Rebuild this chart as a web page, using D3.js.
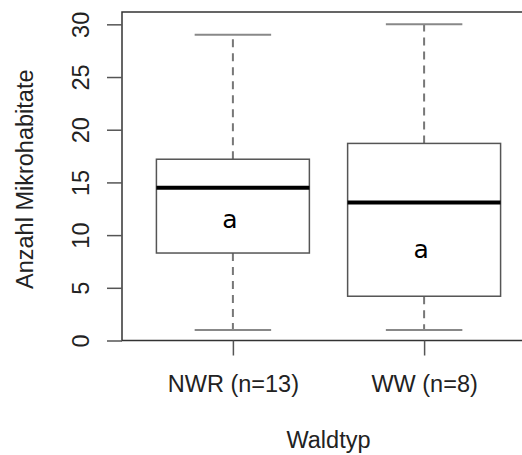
<!DOCTYPE html>
<html>
<head>
<meta charset="utf-8">
<script src="https://cdn.jsdelivr.net/npm/d3@7"></script>
<style>
  body { margin: 0; background: #fff; }
  text { font-family: "Liberation Sans", Arial, sans-serif; fill: #222; }
</style>
</head>
<body>
<div id="chart"></div>
<script>
// data
var groups = ["NWR (n=13)", "WW (n=8)"];
var mins = [1, 1];
var q1s = [8.3, 4.2];
var medians = [14.5, 13.1];
var q3s = [17.2, 18.7];
var maxs = [29, 30];
var letters = ["a", "a"];
var letterPos = [11.5, 8.7];   // value at which the letter sits
var yTicks = [0, 5, 10, 15, 20, 25, 30];

var width = 522, height = 455;
var plotLeft = 122, plotRight = 535, plotTop = 12, plotBottom = 340.5;
var fontSize = 23.5;

var svg = d3.select("#chart")
  .append("svg")
    .attr("width", width)
    .attr("height", height);

// R style: groups at 1..n, xlim extended by 4%
var x = d3.scaleLinear().domain([0.42, 2.58]).range([plotLeft, plotRight]);
var y = d3.scaleLinear().domain([0, 31.17]).range([plotBottom, plotTop]);

// frame
svg.append("rect")
  .attr("x", plotLeft).attr("y", plotTop)
  .attr("width", plotRight - plotLeft).attr("height", plotBottom - plotTop)
  .attr("fill", "none").attr("stroke", "#333").attr("stroke-width", 1.5);

// y axis
var yAxis = svg.append("g")
  .attr("transform", "translate(" + plotLeft + ",0)")
  .call(d3.axisLeft(y).tickValues(yTicks).tickSize(15).tickFormat(d3.format("d")));
yAxis.select(".domain").remove();
yAxis.selectAll("line").attr("stroke", "#555").attr("stroke-width", 1.5);
yAxis.selectAll("text")
  .attr("font-size", fontSize)
  .attr("text-anchor", "middle")
  .attr("x", 0).attr("dy", 0).attr("y", 0)
  .attr("transform", "translate(-33,0) rotate(-90)");

// x axis
var xAxis = svg.append("g")
  .attr("transform", "translate(0," + plotBottom + ")")
  .call(d3.axisBottom(x).tickValues([1, 2]).tickSize(15).tickFormat(function (d) { return groups[d - 1]; }));
xAxis.select(".domain").remove();
xAxis.selectAll("line").attr("stroke", "#555").attr("stroke-width", 1.5);
xAxis.selectAll("text")
  .attr("font-size", fontSize)
  .attr("dy", 0).attr("y", 51.5);

// boxes
var boxHalf = x(1.4) - x(1), capHalf = x(1.2) - x(1);
groups.forEach(function (g, i) {
  var cx = x(i + 1);
  var box = svg.append("g");
  // whiskers
  box.append("line")
    .attr("x1", cx).attr("x2", cx).attr("y1", y(q3s[i])).attr("y2", y(maxs[i]))
    .attr("stroke", "#777").attr("stroke-width", 2).attr("stroke-dasharray", "8,6");
  box.append("line")
    .attr("x1", cx).attr("x2", cx).attr("y1", y(q1s[i])).attr("y2", y(mins[i]))
    .attr("stroke", "#777").attr("stroke-width", 2).attr("stroke-dasharray", "8,6");
  // caps
  [mins[i], maxs[i]].forEach(function (v) {
    box.append("line")
      .attr("x1", cx - capHalf).attr("x2", cx + capHalf).attr("y1", y(v)).attr("y2", y(v))
      .attr("stroke", "#888").attr("stroke-width", 2);
  });
  box.append("rect")
    .attr("x", cx - boxHalf).attr("y", y(q3s[i]))
    .attr("width", 2 * boxHalf).attr("height", y(q1s[i]) - y(q3s[i]))
    .attr("fill", "#fff").attr("stroke", "#555").attr("stroke-width", 1.5);
  box.append("line")
    .attr("x1", cx - boxHalf).attr("x2", cx + boxHalf).attr("y1", y(medians[i])).attr("y2", y(medians[i]))
    .attr("stroke", "#000").attr("stroke-width", 4);
  box.append("text")
    .attr("x", cx - 3).attr("y", y(letterPos[i]) + 9)
    .attr("text-anchor", "middle")
    .attr("font-size", 25)
    .style("font-family", "'DejaVu Sans', sans-serif")
    .style("fill", "#000")
    .text(letters[i]);
});

// axis titles
svg.append("text")
  .attr("x", (plotLeft + plotRight) / 2).attr("y", 448)
  .attr("text-anchor", "middle").attr("font-size", fontSize)
  .text("Waldtyp");

svg.append("text")
  .attr("transform", "translate(33," + ((plotTop + plotBottom) / 2 + 3) + ") rotate(-90)")
  .attr("text-anchor", "middle").attr("font-size", fontSize)
  .text("Anzahl Mikrohabitate");
</script>
</body>
</html>
